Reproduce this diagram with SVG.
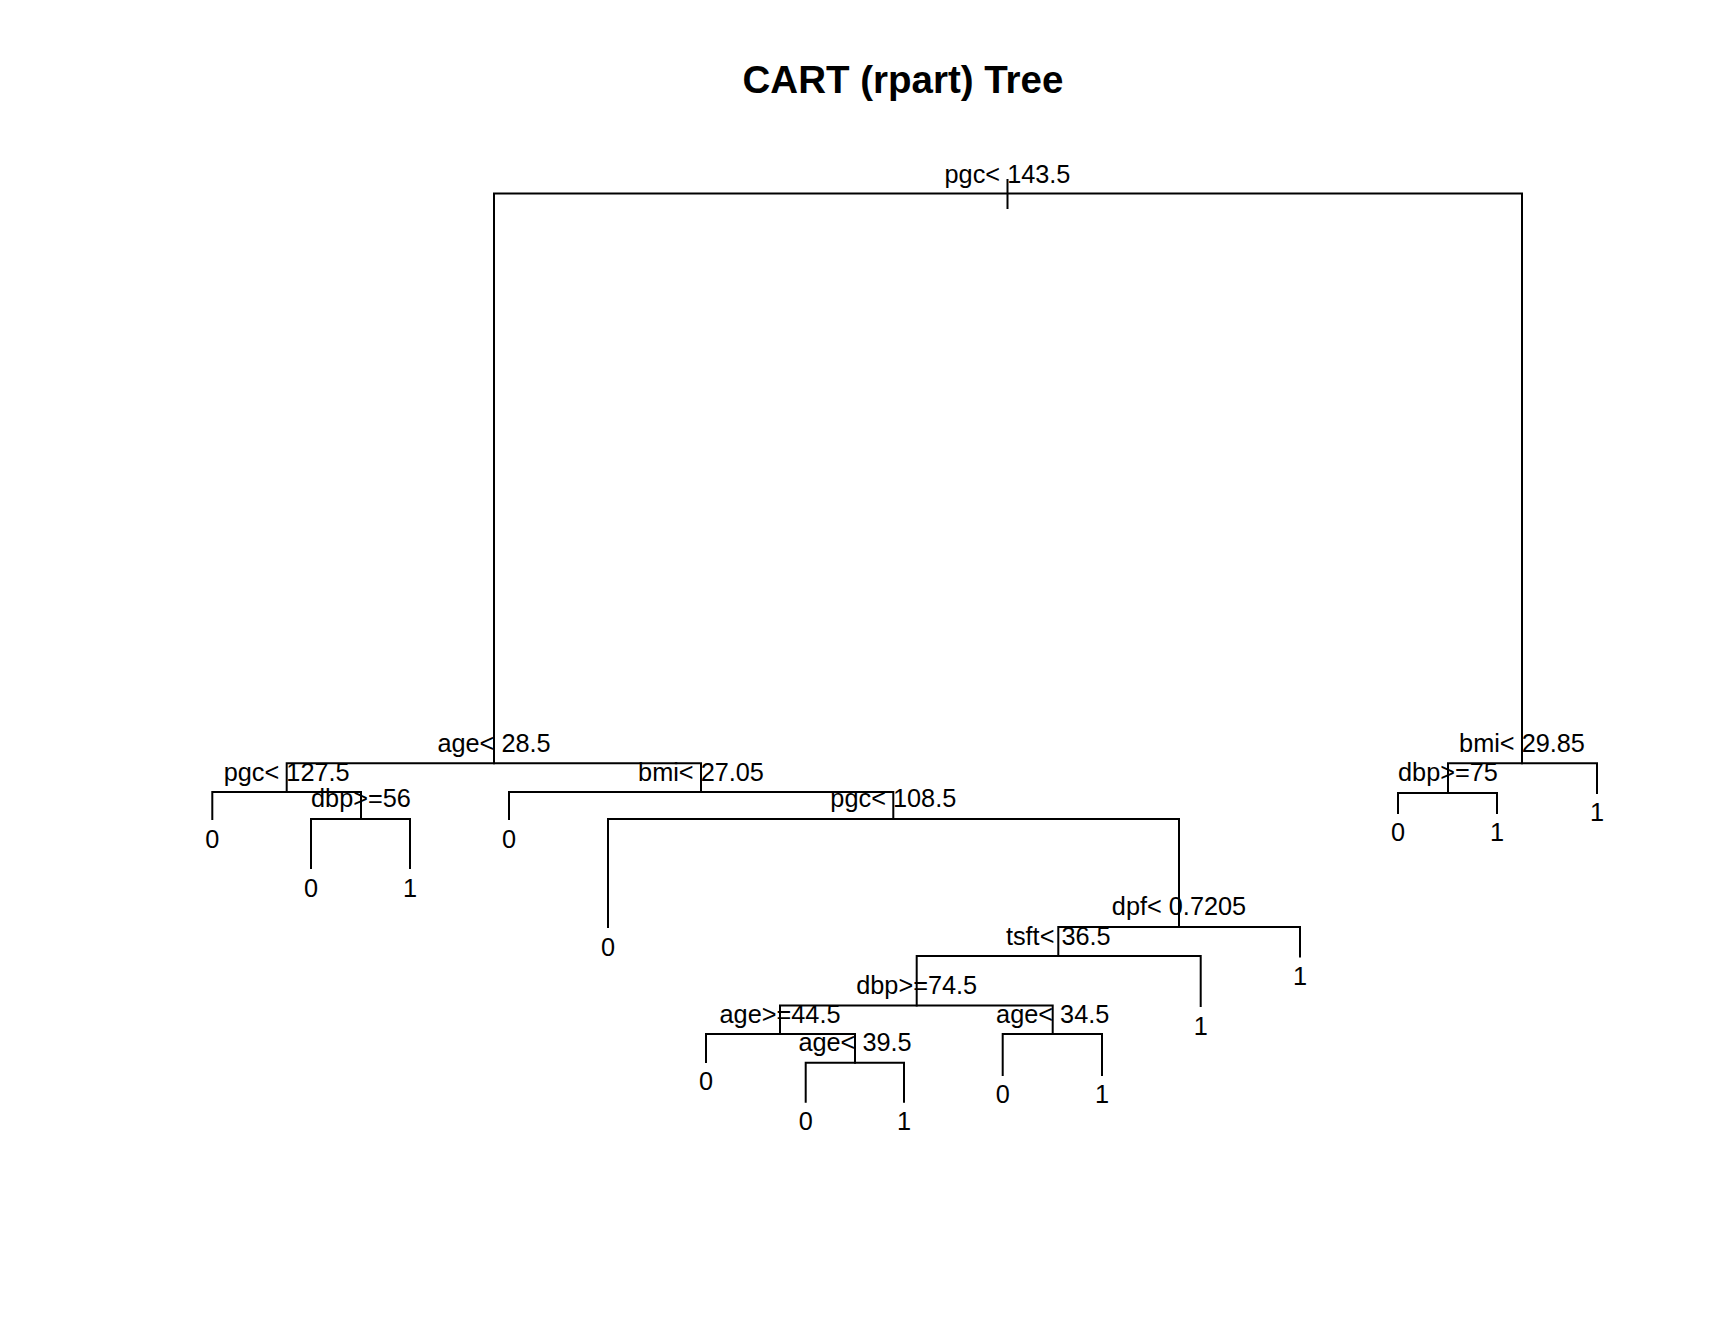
<svg xmlns="http://www.w3.org/2000/svg" width="1732" height="1334" viewBox="0 0 1732 1334">
<style>
  text { font-family: "Liberation Sans", Arial, Helvetica, sans-serif; fill: #000; }
  .title { font-size: 38.5px; font-weight: bold; text-anchor: middle; }
  .lab { font-size: 25.3px; text-anchor: middle; }
  .edge { stroke: #000; stroke-width: 2; fill: none; stroke-linecap: square; stroke-linejoin: miter; }
</style>
<rect x="0" y="0" width="1732" height="1334" fill="#fff"/>
<text class="title" x="903" y="93">CART (rpart) Tree</text>

<g id="connectors">
  <!-- root -->
  <path class="edge" d="M1007.5,180 V208"/>
  <path class="edge" d="M494,763.3 V193.5 H1522 V763.3"/>
  <!-- age< 28.5 -->
  <path class="edge" d="M286.7,792 V763.3 H701 V792"/>
  <!-- bmi< 29.85 -->
  <path class="edge" d="M1448,793 V763.3 H1597 V793"/>
  <!-- pgc< 127.5 -->
  <path class="edge" d="M212.3,819 V792 H361 V819"/>
  <!-- dbp>=56 -->
  <path class="edge" d="M311,868 V819 H410 V868"/>
  <!-- bmi< 27.05 -->
  <path class="edge" d="M509,819 V792 H893.3 V819"/>
  <!-- pgc< 108.5 -->
  <path class="edge" d="M608,927 V819 H1179 V927"/>
  <!-- dpf< 0.7205 -->
  <path class="edge" d="M1058.3,956 V927 H1300 V956.5"/>
  <!-- tsft< 36.5 -->
  <path class="edge" d="M916.7,1005.5 V956 H1200.7 V1006"/>
  <!-- dbp>=74.5 -->
  <path class="edge" d="M780,1034 V1005.5 H1052.7 V1034"/>
  <!-- age>=44.5 -->
  <path class="edge" d="M706,1062 V1034 H855 V1062.7"/>
  <!-- age< 39.5 -->
  <path class="edge" d="M805.7,1101.7 V1062.7 H904 V1101.7"/>
  <!-- age< 34.5 -->
  <path class="edge" d="M1002.7,1075 V1034 H1102 V1075"/>
  <!-- dbp>=75 -->
  <path class="edge" d="M1398,813 V793 H1497 V813"/>
</g>

<g id="node-root"><text class="lab" x="1007.5" y="182.5">pgc&lt; 143.5</text></g>
<g id="node-age285"><text class="lab" x="494" y="752">age&lt; 28.5</text></g>
<g id="node-bmi2985"><text class="lab" x="1522" y="752">bmi&lt; 29.85</text></g>
<g id="node-pgc1275"><text class="lab" x="286.7" y="780.5">pgc&lt; 127.5</text></g>
<g id="node-leaf-a"><text class="lab" x="212.3" y="847.5">0</text></g>
<g id="node-dbp56"><text class="lab" x="361" y="807">dbp&gt;=56</text></g>
<g id="node-leaf-b"><text class="lab" x="311" y="896.5">0</text></g>
<g id="node-leaf-c"><text class="lab" x="410" y="896.5">1</text></g>
<g id="node-bmi2705"><text class="lab" x="701" y="781">bmi&lt; 27.05</text></g>
<g id="node-leaf-d"><text class="lab" x="509" y="847.5">0</text></g>
<g id="node-pgc1085"><text class="lab" x="893.3" y="807">pgc&lt; 108.5</text></g>
<g id="node-leaf-e"><text class="lab" x="608" y="955.5">0</text></g>
<g id="node-dpf"><text class="lab" x="1179" y="915">dpf&lt; 0.7205</text></g>
<g id="node-leaf-f"><text class="lab" x="1300" y="984.5">1</text></g>
<g id="node-tsft"><text class="lab" x="1058.3" y="945">tsft&lt; 36.5</text></g>
<g id="node-leaf-g"><text class="lab" x="1200.7" y="1034.5">1</text></g>
<g id="node-dbp745"><text class="lab" x="916.7" y="994">dbp&gt;=74.5</text></g>
<g id="node-age445"><text class="lab" x="780" y="1022.5">age&gt;=44.5</text></g>
<g id="node-leaf-h"><text class="lab" x="706" y="1090">0</text></g>
<g id="node-age395"><text class="lab" x="855" y="1051">age&lt; 39.5</text></g>
<g id="node-leaf-i"><text class="lab" x="805.7" y="1130">0</text></g>
<g id="node-leaf-j"><text class="lab" x="904" y="1130">1</text></g>
<g id="node-age345"><text class="lab" x="1052.7" y="1022.5">age&lt; 34.5</text></g>
<g id="node-leaf-k"><text class="lab" x="1002.7" y="1103">0</text></g>
<g id="node-leaf-l"><text class="lab" x="1102" y="1103">1</text></g>
<g id="node-dbp75"><text class="lab" x="1448" y="781">dbp&gt;=75</text></g>
<g id="node-leaf-m"><text class="lab" x="1398" y="841">0</text></g>
<g id="node-leaf-n"><text class="lab" x="1497" y="841">1</text></g>
<g id="node-leaf-o"><text class="lab" x="1597" y="821">1</text></g>
</svg>
